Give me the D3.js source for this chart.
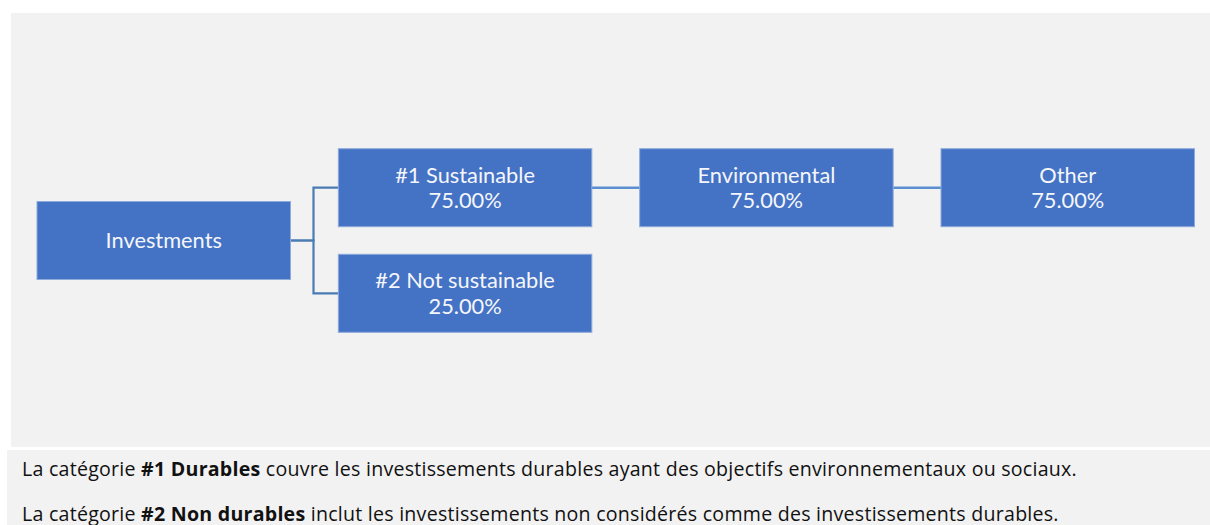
<!DOCTYPE html>
<html>
<head>
<meta charset="utf-8">
<script src="https://cdn.jsdelivr.net/npm/d3@7"></script>
<style>
  html, body { margin: 0; padding: 0; background: #ffffff; }
  svg { display: block; }
</style>
</head>
<body>
<svg id="chart" width="1210" height="525"></svg>
<script>
// ---- data ----
const nodeIds     = ["inv", "sus", "notsus", "env", "other"];
const nodeNames   = ["Investments", "#1 Sustainable", "#2 Not sustainable", "Environmental", "Other"];
const nodeValues  = [null, 75.00, 25.00, 75.00, 75.00];
const nodeParents = ["", "inv", "inv", "sus", "env"];

const noteLines = [
  [{t: "La catégorie ", b: false}, {t: "#1 Durables", b: true}, {t: " couvre les investissements durables ayant des objectifs environnementaux ou sociaux.", b: false}],
  [{t: "La catégorie ", b: false}, {t: "#2 Non durables", b: true}, {t: " inclut les investissements non considérés comme des investissements durables.", b: false}]
];

// ---- layout ----
const svg = d3.select("#chart");
const W = 1210, H = 525;

svg.append("rect").attr("x", 11).attr("y", 13).attr("width", W - 11).attr("height", 434).attr("fill", "#f2f2f2");
svg.append("rect").attr("x", 7).attr("y", 450).attr("width", W - 7).attr("height", H - 450).attr("fill", "#f2f2f2");

const table = nodeIds.map((id, i) => ({id, name: nodeNames[i], value: nodeValues[i], parent: nodeParents[i] || null}));
const root = d3.stratify().id(d => d.id).parentId(d => d.parent)(table);

const boxW = 253.5, boxH = 78;
const x = d3.scaleLinear().domain([0, 3]).range([37, 941]);
const y = d3.scaleLinear().domain([0, 1]).range([187.7, 293.3]);

root.children.forEach((c, i) => c.each(n => { n.row = i; }));
root.row = d3.mean(root.children, c => c.row);

const nodes = root.descendants();
nodes.forEach(n => { n.px = x(n.depth); n.py = y(n.row); });

// links
const links = root.links();
svg.append("g").selectAll("path").data(links).join("path")
  .attr("fill", "none")
  .attr("stroke", d => d.source.depth === 0 ? "#4a7bb3" : "#5b8fcf")
  .attr("stroke-width", d => d.source.depth === 0 ? 2.2 : 2.6)
  .attr("d", d => {
    const x0 = d.source.px + boxW, y0 = d.source.py;
    const x1 = d.target.px, y1 = d.target.py;
    if (Math.abs(y0 - y1) < 0.5) return `M${x0},${y0}H${x1}`;
    const mx = x0 + 23;
    return `M${x0},${y0}H${mx}V${y1}H${x1}`;
  });

// boxes
const g = svg.append("g").selectAll("g").data(nodes).join("g")
  .attr("transform", d => `translate(${d.px},${d.py - boxH / 2})`);

g.append("rect")
  .attr("width", boxW).attr("height", boxH)
  .attr("fill", "#4472c4")
  .attr("stroke", "#8eaadb").attr("stroke-width", 1);

const fmt = d3.format(".2f");
g.each(function(d) {
  const sel = d3.select(this);
  const lines = d.data.value == null ? [d.data.name] : [d.data.name, fmt(d.data.value) + "%"];
  const baselines = lines.length === 1 ? [boxH / 2 + 7.5] : [boxH / 2 - 5, boxH / 2 + 20.6];
  lines.forEach((l, i) => {
    sel.append("text")
      .attr("x", boxW / 2).attr("y", baselines[i])
      .attr("text-anchor", "middle")
      .attr("font-family", "Lato, 'Open Sans', sans-serif")
      .attr("font-size", 21.8)
      .attr("fill", "#f4f6fb")
      .text(l);
  });
});

// notes
const notes = svg.append("g");
const targetW = 1055;
noteLines.forEach((parts, i) => {
  const t = notes.append("text")
    .attr("x", 22).attr("y", 475.5 + i * 45.5)
    .attr("font-family", "'Open Sans', 'Noto Sans', sans-serif")
    .attr("font-size", 19.6)
    .attr("fill", "#111111");
  parts.forEach(p => t.append("tspan").attr("font-weight", p.b ? 700 : 400).text(p.t));
});
const first = notes.select("text").node();
const w0 = first.getComputedTextLength();
const nChars = first.textContent.length;
const ls = Math.max(0, (targetW - w0) / nChars);
notes.selectAll("text").attr("letter-spacing", ls.toFixed(3));
</script>
</body>
</html>
